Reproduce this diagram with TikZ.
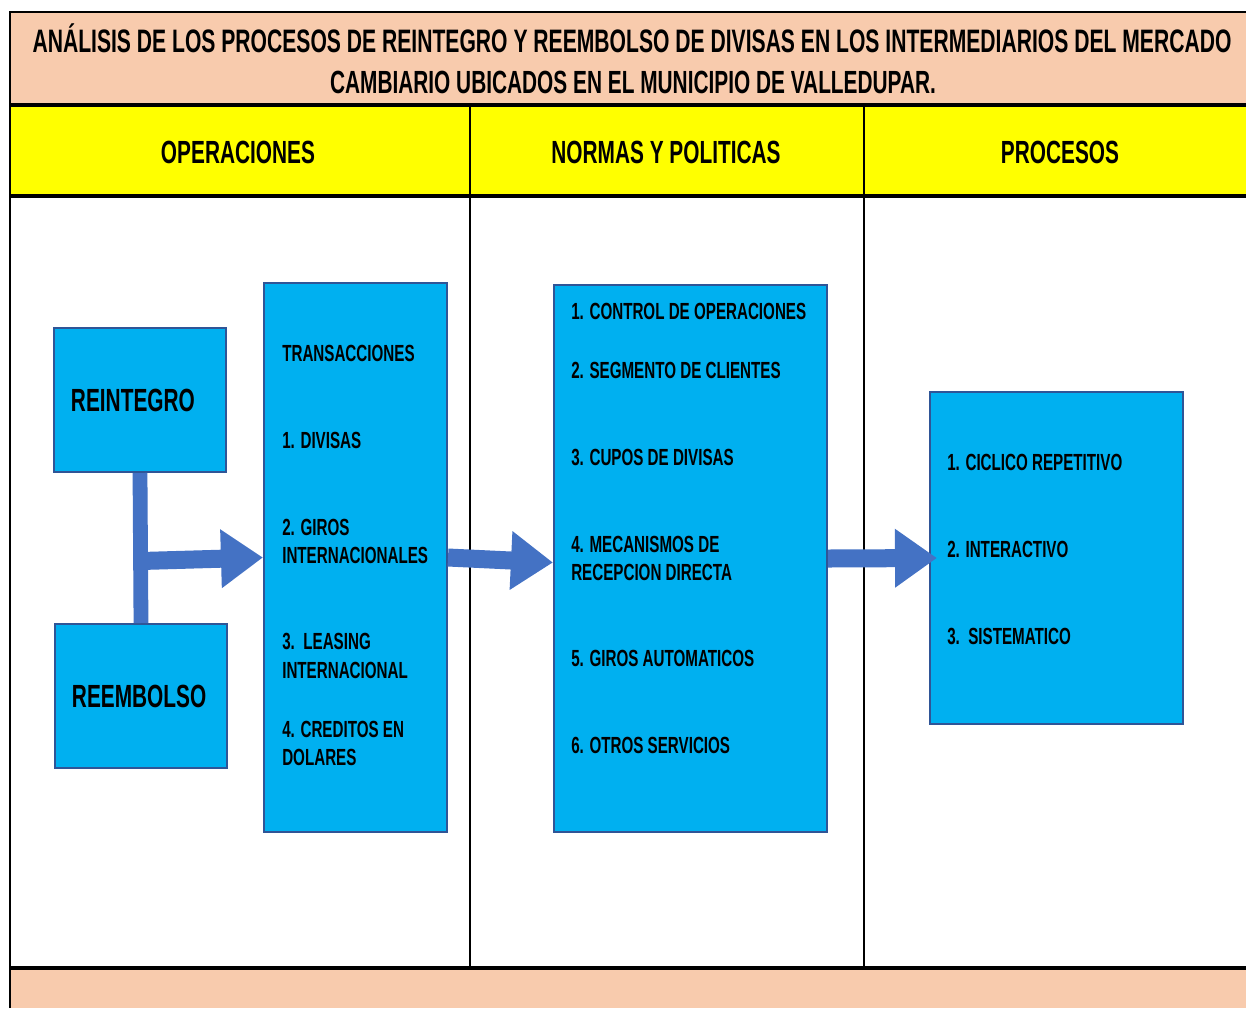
\documentclass[tikz,border=0pt]{standalone}
\usepackage{fontspec}
\setmainfont{Liberation Sans}[FakeStretch=0.65]
\usetikzlibrary{arrows.meta,calc}
\definecolor{durazno}{HTML}{F8CBAD}
\definecolor{amarillo}{HTML}{FFFF00}
\definecolor{azulcaja}{HTML}{00B0F0}
\definecolor{azulborde}{HTML}{2F5597}
\definecolor{azulflecha}{HTML}{4472C4}

\begin{document}
\begin{tikzpicture}[x=0.025cm,y=-0.025cm,
	caja/.style={draw=azulborde,fill=azulcaja,line width=0.05cm,inner sep=0pt},
	grande/.style={font=\bfseries\fontsize{22.8}{27}\selectfont},
	origen/.style={caja,grande,minimum width=4.3cm,minimum height=3.6cm,text width=3.45cm,align=left},
	texto/.style={anchor=west,inner sep=0pt,text height=11.9pt,text depth=0pt,font=\bfseries\fontsize{16.6}{20}\selectfont},
	flechab/.style={draw=azulflecha,line width=0.45cm,-{Triangle[length=1.05cm,width=1.4cm]}},
	barra/.style={draw=azulflecha,line width=0.37cm}]
	\useasboundingbox (0,0) rectangle (1246,1008);
	\fill[durazno] (10,12) rectangle (1246,105);
	\fill[amarillo] (10,105) rectangle (1246,196);
	\fill[durazno] (10,968) rectangle (1246,1008);
	\draw[line width=0.04cm] (10,1008) -- (10,12) -- (1246,12);
	\draw[line width=0.08cm] (10,105) -- (1246,105) (10,196) -- (1246,196) (10,968) -- (1246,968);
	\draw[line width=0.065cm] (470,105) -- (470,968) (864,105) -- (864,968);

	\node[font=\bfseries\fontsize{23.1}{27}\selectfont,inner sep=0pt] (titulo1) at (632,38) {ANÁLISIS DE LOS PROCESOS DE REINTEGRO Y REEMBOLSO DE DIVISAS EN LOS INTERMEDIARIOS DEL MERCADO};
	\node[grande,inner sep=0pt] (titulo2) at (633,82) {CAMBIARIO UBICADOS EN EL MUNICIPIO DE VALLEDUPAR.};
	\node[grande] (col1) at (238,152) {OPERACIONES};
	\node[grande] (col2) at (666,152) {NORMAS Y POLITICAS};
	\node[grande] (col3) at (1060,152) {PROCESOS};

	\node[origen] (reintegro) at (140,400) {REINTEGRO};
	\node[origen] (reembolso) at (141,696) {REEMBOLSO};
	\node[caja,minimum width=4.575cm,minimum height=13.725cm] (trans) at (355.5,557.5) {};
	\node[caja,minimum width=6.825cm,minimum height=13.675cm] (normas) at (690.5,558.5) {};
	\node[caja,minimum width=6.325cm,minimum height=8.3cm] (procesos) at (1056.5,558) {};

	\node[texto] (t0) at (282,353) {TRANSACCIONES};
	\node[texto] (t1) at (282,440) {1. DIVISAS};
	\node[texto] (t2a) at (282,527) {2. GIROS};
	\node[texto] (t2b) at (282,555) {INTERNACIONALES};
	\node[texto] (t3a) at (282,641) {3.\ \ LEASING};
	\node[texto] (t3b) at (282,670) {INTERNACIONAL};
	\node[texto] (t4a) at (282,729) {4. CREDITOS EN};
	\node[texto] (t4b) at (282,757) {DOLARES};

	\node[texto] (n1) at (571,311) {1. CONTROL DE OPERACIONES};
	\node[texto] (n2) at (571,370) {2. SEGMENTO DE CLIENTES};
	\node[texto] (n3) at (571,457) {3. CUPOS DE DIVISAS};
	\node[texto] (n4a) at (571,544) {4. MECANISMOS DE};
	\node[texto] (n4b) at (571,572) {RECEPCION DIRECTA};
	\node[texto] (n5) at (571,658) {5. GIROS AUTOMATICOS};
	\node[texto] (n6) at (571,745) {6. OTROS SERVICIOS};

	\node[texto] (p1) at (947,462) {1. CICLICO REPETITIVO};
	\node[texto] (p2) at (947,549) {2. INTERACTIVO};
	\node[texto] (p3) at (947,636) {3.\ \ SISTEMATICO};

	\coordinate (union) at (141,561);
	\draw[barra] (reintegro.south) -- (reembolso.north);
	\draw[flechab] (union) -- (trans.west);
	\draw[flechab] (trans.east) -- ($(normas.west)+(0,4)$);
	\draw[flechab] (normas.east) -- ($(procesos.west)+(8,0)$);
\end{tikzpicture}
\end{document}
